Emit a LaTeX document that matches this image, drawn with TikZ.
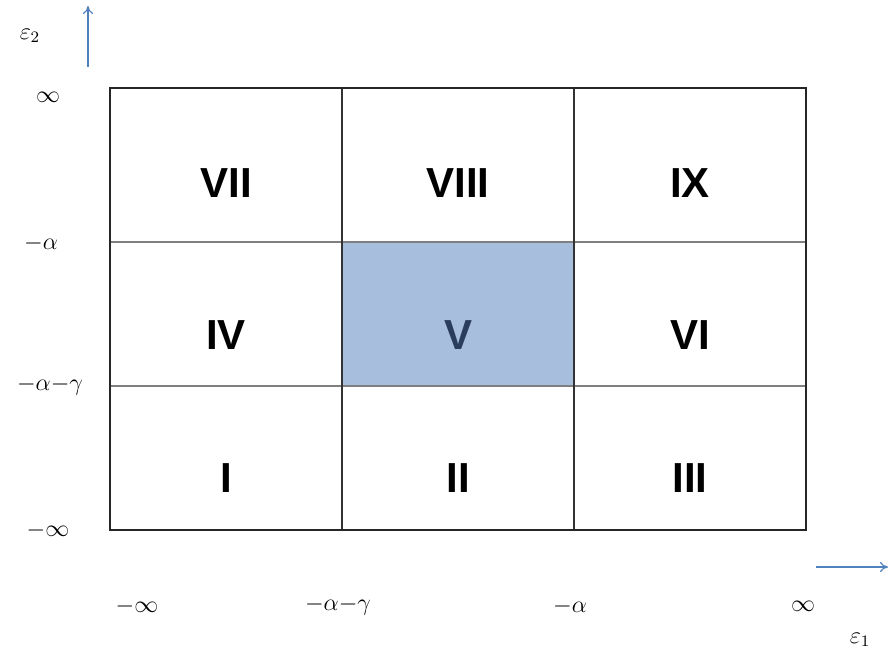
\documentclass[tikz,border=0pt]{standalone}
\usepackage{fontspec}
\setsansfont{Liberation Sans}
\usetikzlibrary{positioning}
\usetikzlibrary{arrows.meta}
\definecolor{axisblue}{HTML}{4F81BD}
\definecolor{cellfill}{HTML}{A7BFDD}
\definecolor{cellline}{HTML}{4A6A9A}
\definecolor{cellnavy}{HTML}{2A3D5C}
\definecolor{gridgrey}{HTML}{7F7F7F}
\tikzset{
  region/.style={font=\sffamily\bfseries\fontsize{21}{24}\selectfont, inner sep=0pt},
  tick/.style={font=\fontsize{12}{14}\selectfont, inner sep=0pt},
  axisarrow/.style={draw=axisblue, line width=0.6pt, -{To[length=4pt,width=5pt]}}
}
\begin{document}
\begin{tikzpicture}[x=0.5pt, y=-0.5pt]
            \useasboundingbox (0,0) rectangle (888,659);

            % shaded cell V
            \filldraw[fill=cellfill, draw=cellline, line width=0.8pt] (342,242) rectangle (574,386);

            % grid
            \draw[gridgrey, line width=1pt] (110,242) -- (806,242);
            \draw[gridgrey, line width=1pt] (110,386) -- (806,386);
            \draw[black!80, line width=0.75pt] (342,88) -- (342,530);
            \draw[black!80, line width=0.75pt] (574,88) -- (574,530);
            \draw[black!85, line width=0.9pt] (110,88) rectangle (806,530);

            \foreach \lab/\x/\y in {I/226/478, II/458/478, III/690/478,
                                    IV/226/335, VI/690/335,
                                    VII/226/183, VIII/458/183, IX/690/183}
                {\node[region] (r\lab) at (\x,\y) {\lab};}
            \node[region, text=cellnavy] (rV) at (458,335) {V};

            % ticks on the left
            \foreach \name/\x/\y/\txt in {inf/48/97/\infty, a/41/243/{-}\alpha,
                                          ag/50/386/{-}\alpha{-}\gamma, minf/48/530/{-}\infty}
                {\node[tick] (y\name) at (\x,\y) {$\txt$};}

            % ticks below
            \foreach \name/\x/\txt in {minf/137/{-}\infty, ag/338/{-}\alpha{-}\gamma,
                                       a/570/{-}\alpha, inf/803/\infty}
                {\node[tick] (x\name) at (\x,606) {$\txt$};}

            % axes
            \node[tick] (eps2) at (30,36) {$\varepsilon_2$};
            \node[tick] (eps1) at (860,640) {$\varepsilon_1$};
            \coordinate (e2from) at (88,67);
            \coordinate (e2to) at (88,6);
            \coordinate (e1from) at (816,567);
            \coordinate (e1to) at (888,567);
            \draw[axisarrow] (e2from) -- (e2to);
            \draw[axisarrow] (e1from) -- (e1to);
\end{tikzpicture}
\end{document}
